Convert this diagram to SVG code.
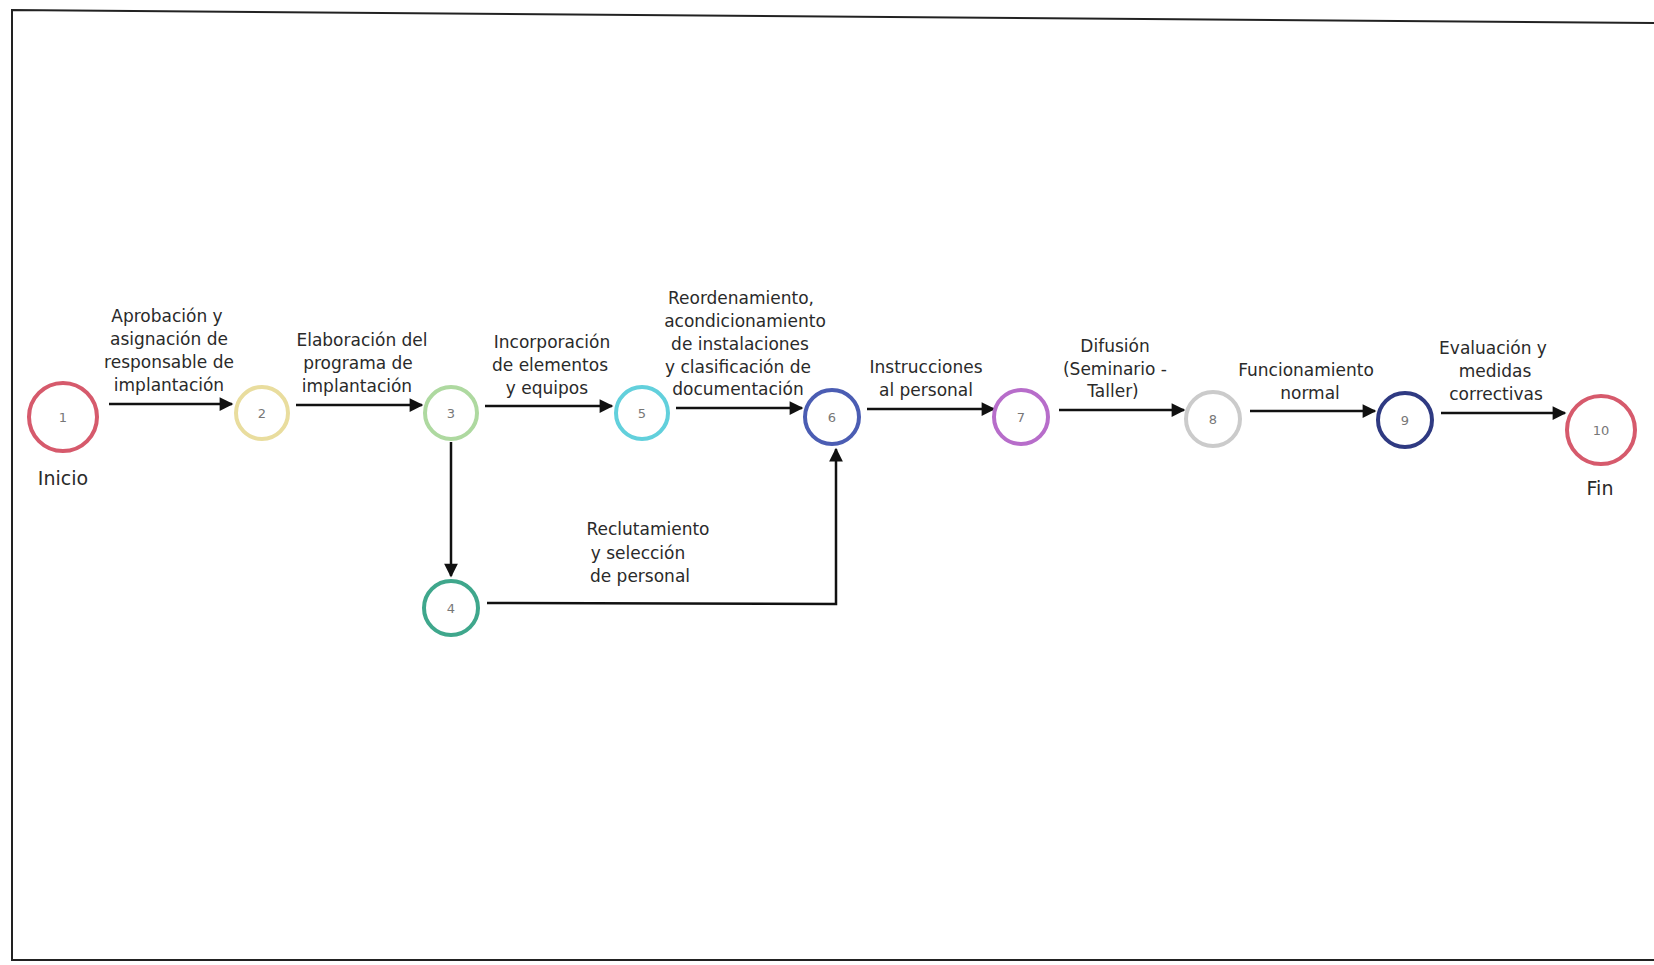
<svg xmlns="http://www.w3.org/2000/svg" width="1654" height="965" viewBox="0 0 1654 965">
<style>
.lbl{font-family:"DejaVu Sans",sans-serif;font-size:17px;fill:#2a2a2a;text-anchor:middle}
.big{font-family:"DejaVu Sans",sans-serif;font-size:19px;fill:#2a2a2a;text-anchor:middle}
.num{font-family:"DejaVu Sans",sans-serif;font-size:13px;fill:#777;text-anchor:middle}
.node{fill:#fff;stroke-width:4}
.edge{fill:none;stroke:#111;stroke-width:2.5}
</style>
<defs>
<marker id="ah" viewBox="0 0 10 10" refX="9" refY="5" markerWidth="6" markerHeight="5.5" markerUnits="strokeWidth" orient="auto">
<path d="M0,0 L10,5 L0,10 Z" fill="#111"/>
</marker>
</defs>
<rect width="1654" height="965" fill="#fff"/>
<path d="M1654,23 L12,10 L12,960 L1654,960" fill="none" stroke="#222" stroke-width="2"/>
<g id="connectors">
<path class="edge" d="M109,404 L232,404" marker-end="url(#ah)"/>
<path class="edge" d="M296,405 L422,405" marker-end="url(#ah)"/>
<path class="edge" d="M485,406 L612,406" marker-end="url(#ah)"/>
<path class="edge" d="M676,408 L802,408" marker-end="url(#ah)"/>
<path class="edge" d="M867,409 L994,409" marker-end="url(#ah)"/>
<path class="edge" d="M1059,410 L1184,410" marker-end="url(#ah)"/>
<path class="edge" d="M1250,411 L1375,411" marker-end="url(#ah)"/>
<path class="edge" d="M1441,413 L1565,413" marker-end="url(#ah)"/>
<path class="edge" d="M451,442 L451,576" marker-end="url(#ah)"/>
<path class="edge" d="M487,603 L836,604 L836,449" marker-end="url(#ah)"/>
</g>
<g id="labels">
<text class="lbl" x="167" y="322">Aprobación y</text>
<text class="lbl" x="169" y="345">asignación de</text>
<text class="lbl" x="169" y="368">responsable de</text>
<text class="lbl" x="169" y="391">implantación</text>
<text class="lbl" x="362" y="346">Elaboración del</text>
<text class="lbl" x="358" y="369">programa de</text>
<text class="lbl" x="357" y="392">implantación</text>
<text class="lbl" x="552" y="348">Incorporación</text>
<text class="lbl" x="550" y="371">de elementos</text>
<text class="lbl" x="547" y="394">y equipos</text>
<text class="lbl" x="741" y="304">Reordenamiento,</text>
<text class="lbl" x="745" y="327">acondicionamiento</text>
<text class="lbl" x="740" y="350">de instalaciones</text>
<text class="lbl" x="738" y="373">y clasificación de</text>
<text class="lbl" x="738" y="395">documentación</text>
<text class="lbl" x="926" y="373">Instrucciones</text>
<text class="lbl" x="926" y="396">al personal</text>
<text class="lbl" x="1115" y="352">Difusión</text>
<text class="lbl" x="1115" y="375">(Seminario -</text>
<text class="lbl" x="1113" y="397">Taller)</text>
<text class="lbl" x="1306" y="376">Funcionamiento</text>
<text class="lbl" x="1310" y="399">normal</text>
<text class="lbl" x="1493" y="354">Evaluación y</text>
<text class="lbl" x="1495" y="377">medidas</text>
<text class="lbl" x="1496" y="400">correctivas</text>
<text class="lbl" x="648" y="535">Reclutamiento</text>
<text class="lbl" x="638" y="559">y selección</text>
<text class="lbl" x="640" y="582">de personal</text>
</g>
<g id="n1"><circle class="node" cx="63" cy="417" r="34" stroke="#d65a6c"/><text class="num" x="63" y="422">1</text><text class="big" x="63" y="485">Inicio</text></g>
<g id="n2"><circle class="node" cx="262" cy="413" r="26" stroke="#e9dd9e" stroke-width="3"/><text class="num" x="262" y="418">2</text></g>
<g id="n3"><circle class="node" cx="451" cy="413" r="26" stroke="#aed9a0" stroke-width="3"/><text class="num" x="451" y="418">3</text></g>
<g id="n4"><circle class="node" cx="451" cy="608" r="27" stroke="#3fa78c"/><text class="num" x="451" y="613">4</text></g>
<g id="n5"><circle class="node" cx="642" cy="413" r="26" stroke="#62d0dc"/><text class="num" x="642" y="418">5</text></g>
<g id="n6"><circle class="node" cx="832" cy="417" r="27" stroke="#4b5db3"/><text class="num" x="832" y="422">6</text></g>
<g id="n7"><circle class="node" cx="1021" cy="417" r="27" stroke="#b76dca"/><text class="num" x="1021" y="422">7</text></g>
<g id="n8"><circle class="node" cx="1213" cy="419" r="27" stroke="#cbcbcb" stroke-width="3"/><text class="num" x="1213" y="424">8</text></g>
<g id="n9"><circle class="node" cx="1405" cy="420" r="27" stroke="#2f3a82"/><text class="num" x="1405" y="425">9</text></g>
<g id="n10"><circle class="node" cx="1601" cy="430" r="34" stroke="#d65a6c"/><text class="num" x="1601" y="435">10</text><text class="big" x="1600" y="495">Fin</text></g>
</svg>
